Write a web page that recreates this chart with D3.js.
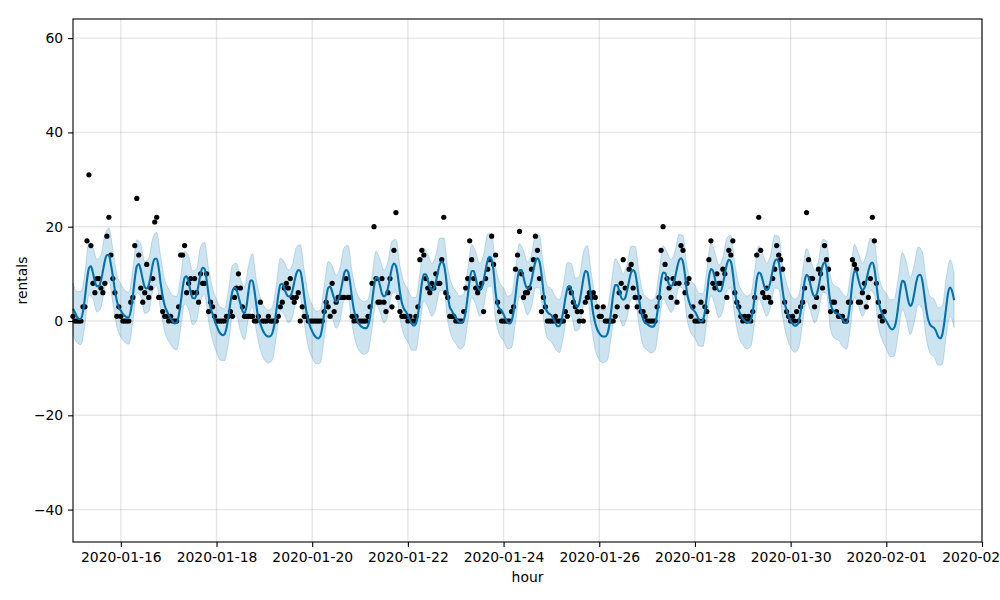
<!DOCTYPE html>
<html>
<head>
<meta charset="utf-8">
<script src="https://cdn.jsdelivr.net/npm/d3@7"></script>
<style>
  body { margin: 0; background: #fff; }
  svg { display: block; font-family: "DejaVu Sans", sans-serif; }
</style>
</head>
<body>
<svg id="chart" width="1000" height="600"></svg>
<script>
// hourly series, hour 0 = 2020-01-15 00:00 UTC
const startTime = "2020-01-15T00:00:00Z";
const endTime = "2020-02-03T00:00:00Z";

// observed rentals, one per hour (2020-01-15 .. 2020-01-31)
const rentals = [
  1,0,0,0,0,3,3,17,31,16,8,6,9,9,7,6,8,18,22,14,9,6,1,3,
  1,0,0,0,0,4,5,16,26,14,7,4,6,12,5,7,9,21,22,5,5,2,1,1,
  0,1,0,0,0,3,14,14,16,6,8,9,6,9,6,4,10,8,8,10,2,4,3,1,
  0,0,0,0,0,1,1,2,1,5,7,10,7,3,1,1,1,1,1,0,0,1,4,0,
  0,0,1,0,0,0,0,1,3,4,7,8,7,9,5,4,5,6,0,3,1,1,0,0,
  0,0,0,0,0,0,2,4,3,1,8,2,4,5,5,5,5,9,5,5,1,0,1,0,
  0,0,0,0,1,3,8,20,9,4,4,9,4,2,6,9,3,15,23,5,2,1,1,1,
  0,1,0,0,1,3,13,15,14,9,7,6,8,7,10,8,8,13,22,6,5,1,1,1,
  0,0,0,0,2,7,9,17,13,9,7,6,7,8,2,9,11,13,18,12,14,4,2,0,
  0,0,0,0,2,3,11,14,19,10,5,6,6,7,11,13,18,15,9,2,5,3,0,0,
  0,0,1,0,0,0,0,2,1,7,6,4,3,2,0,2,0,4,5,6,5,6,5,3,
  1,1,3,0,0,0,0,0,1,3,6,8,13,7,3,11,12,7,5,3,5,2,2,1,
  0,0,0,0,0,3,5,15,20,12,9,7,5,9,8,4,8,16,15,6,8,9,1,3,
  0,0,0,4,0,3,2,13,17,8,7,10,8,8,11,10,5,15,14,17,6,4,3,1,
  0,1,0,1,0,2,5,14,22,15,6,5,7,5,4,9,11,16,14,13,11,4,2,1,
  0,1,0,2,0,3,4,7,23,13,9,9,3,5,11,10,7,16,13,11,2,4,4,2,
  1,1,1,0,0,4,4,13,12,11,4,4,6,8,3,5,9,22,17,8,4,1,0,2
];

// forecast yhat, one per hour (2020-01-15 00:00 .. 2020-02-02 10:00)
const yhat = [
  2.6,1.8,0.9,0.4,0.5,2.0,5.0,8.6,11.2,11.6,10.2,8.3,7.4,7.4,8.5,10.6,12.8,14.0,14.0,12.0,9.5,6.6,4.3,2.9,
  2.2,1.5,1.1,0.8,0.8,2.2,5.3,8.9,11.6,12.1,10.8,8.8,7.2,6.9,7.6,9.6,12.0,13.2,13.2,11.2,7.9,5.2,3.3,2.2,
  1.3,0.5,-0.1,-0.5,-0.4,1.0,3.8,7.0,9.2,9.5,8.2,6.2,4.9,4.8,5.7,7.7,10.1,11.3,11.1,8.8,5.6,2.8,1.5,0.2,
  -1.0,-2.0,-2.7,-3.0,-2.8,-1.5,1.0,4.0,6.3,7.1,6.6,5.2,3.6,2.2,1.6,3.0,6.2,8.6,8.6,6.5,3.3,0.5,-0.6,-1.8,
  -2.6,-3.1,-3.3,-3.2,-2.6,-0.8,2.2,5.5,7.7,7.9,6.9,5.8,5.2,5.3,6.3,8.2,10.0,10.8,10.6,8.5,5.2,2.2,0.2,-1.2,
  -2.2,-3.0,-3.5,-3.7,-3.3,-1.5,1.6,4.8,7.0,7.3,6.2,4.8,4.1,4.4,5.8,7.9,10.0,10.8,10.4,8.2,4.8,2.2,0.8,-0.3,
  -0.9,-1.3,-1.5,-1.5,-1.0,0.8,3.9,7.3,9.2,9.0,7.5,5.8,5.2,5.6,7.0,9.2,11.3,12.2,11.7,9.4,6.2,3.8,2.6,2.0,
  1.2,0.2,-0.6,-1.0,-0.6,1.2,4.5,8.0,9.9,9.9,8.6,7.1,6.6,6.9,8.3,10.3,12.0,12.6,12.0,9.6,5.6,3.0,2.2,1.4,
  0.8,0.1,-0.3,-0.3,0.2,2.0,5.2,8.7,10.6,10.6,9.1,7.3,6.6,7.0,8.6,10.9,12.8,13.6,13.0,10.5,6.0,3.4,2.6,2.2,
  1.4,0.4,-0.3,-0.5,0.0,2.0,5.4,9.0,10.8,10.8,9.3,7.6,6.9,7.2,8.6,10.8,12.6,13.3,12.6,10.0,6.2,2.9,1.9,1.5,
  1.2,0.5,-0.4,-1.1,-1.1,0.0,2.2,4.8,6.8,7.4,6.6,5.0,3.5,3.0,3.9,6.2,8.9,10.6,10.4,8.0,4.6,1.5,-0.5,-1.8,
  -2.6,-3.1,-3.3,-3.3,-2.8,-1.0,2.2,5.6,7.6,7.6,6.4,5.0,4.5,4.9,6.5,8.6,10.3,10.8,10.2,7.8,4.6,1.8,0.4,-0.4,
  -0.6,-1.0,-1.2,-1.2,-0.6,1.4,4.8,8.4,10.3,10.2,9.0,7.8,7.4,7.8,9.2,11.2,12.8,13.3,12.5,9.8,6.0,4.2,3.0,2.4,
  2.0,1.2,0.3,-0.1,0.2,2.0,5.5,9.2,11.0,10.7,9.0,7.2,6.3,6.4,7.8,10.0,12.0,13.0,12.6,10.2,6.6,3.8,2.3,1.2,
  0.5,0.0,-0.3,-0.3,0.2,2.0,5.3,8.8,10.3,10.0,8.6,7.1,6.6,7.0,8.6,10.8,12.6,13.1,12.4,9.8,6.4,3.8,2.3,1.0,
  0.0,-0.6,-1.0,-0.9,-0.2,1.8,5.0,8.4,9.8,9.3,7.6,5.9,5.2,5.6,7.2,9.6,11.7,12.4,11.4,7.2,3.8,2.4,1.9,1.6,
  1.5,1.0,0.3,-0.3,-0.4,1.0,4.2,8.2,10.6,10.4,8.8,7.3,6.6,7.0,8.6,10.6,12.0,12.4,11.2,8.0,4.5,2.6,1.5,0.6,
  0.0,-0.8,-1.5,-1.8,-1.4,0.2,3.2,6.5,8.5,8.3,6.5,4.3,3.2,3.8,5.8,8.2,9.6,9.8,8.7,5.8,2.6,0.3,-0.8,-1.2,
  -1.5,-2.2,-3.3,-3.7,-3.0,-0.6,2.8,6.0,7.1,6.3,4.4
];

// uncertainty interval, every 2 hours
const yhatUpper = [
  8.0,6.2,6.3,10.4,16.9,15.6,13.1,14.0,18.3,19.7,15.2,9.8,
  7.9,6.5,6.1,10.9,17.2,16.4,12.6,13.3,17.6,18.8,13.6,8.8,
  6.8,5.4,5.2,9.5,14.8,13.8,10.6,11.1,15.8,16.7,11.2,7.0,
  4.6,2.9,2.7,6.6,11.8,12.3,9.0,7.3,11.6,14.3,8.7,4.9,
  3.0,2.3,3.0,7.8,13.3,12.5,10.8,11.8,15.6,16.2,10.8,5.8,
  3.4,2.1,2.3,7.4,12.6,11.8,9.7,11.4,15.6,16.0,10.4,6.4,
  4.7,4.1,4.6,9.5,14.8,13.1,10.8,12.6,16.9,17.3,11.8,8.2,
  6.8,5.0,5.0,10.1,15.5,14.2,12.2,13.9,17.6,17.6,11.2,7.8,
  6.4,5.3,5.8,10.8,16.2,14.7,12.2,14.2,18.4,18.6,11.6,8.2,
  7.0,5.3,5.6,11.0,16.4,14.9,12.5,14.2,18.2,18.2,11.8,7.5,
  6.8,5.2,4.5,7.8,12.4,12.2,9.1,9.5,14.5,16.0,10.2,5.1,
  3.0,2.3,2.8,7.8,13.2,12.0,10.1,12.1,15.9,15.8,10.2,6.0,
  5.0,4.4,5.0,10.4,15.9,14.6,13.0,14.8,18.4,18.1,11.6,8.6,
  7.6,5.9,5.8,11.1,16.6,14.6,11.9,13.4,17.6,18.2,12.2,7.9,
  6.1,5.3,5.8,10.9,15.9,14.2,12.2,14.2,18.2,18.0,12.0,7.9,
  5.6,4.6,5.4,10.6,15.4,13.2,10.8,12.8,17.3,17.0,9.4,7.5,
  7.1,5.9,5.2,9.8,16.2,14.4,12.2,14.2,17.6,16.8,10.1,7.1,
  5.9,4.5,4.6,9.2,14.5,12.6,9.2,11.9,15.7,14.8,8.7,5.2,
  4.6,2.8,3.1,9.0,13.0,10.2
];
const yhatLower = [
  -2.9,-4.6,-5.0,-0.6,5.5,4.7,1.9,2.8,7.1,8.5,3.8,-1.2,
  -3.4,-4.5,-4.9,-0.3,6.0,5.1,1.6,2.0,6.3,7.5,2.2,-2.3,
  -4.3,-5.6,-6.1,-1.7,3.6,2.5,-0.8,0.1,4.4,5.6,0.0,-4.0,
  -6.6,-8.3,-8.4,-4.6,0.7,1.0,-2.1,-4.0,0.5,3.0,-2.2,-6.2,
  -8.2,-8.9,-8.2,-3.4,2.1,1.3,-0.4,0.7,4.4,5.0,-0.4,-5.4,
  -7.8,-9.1,-8.9,-3.8,1.4,0.6,-1.5,0.2,4.4,4.8,-0.8,-4.8,
  -6.5,-7.1,-6.6,-1.7,3.6,1.9,-0.4,1.4,5.7,6.1,0.6,-3.0,
  -4.4,-6.2,-6.2,-1.1,4.3,3.0,1.0,2.7,6.4,6.4,0.0,-3.4,
  -4.8,-5.9,-5.4,-0.4,5.0,3.5,1.0,3.0,7.2,7.4,0.4,-3.0,
  -4.2,-5.9,-5.6,-0.2,5.2,3.7,1.3,3.0,7.0,7.0,0.6,-3.7,
  -4.4,-6.0,-6.7,-3.4,1.2,1.0,-2.1,-1.7,3.3,4.8,-1.0,-6.1,
  -8.2,-8.9,-8.4,-3.4,2.0,0.8,-1.1,0.9,4.7,4.6,-1.0,-5.2,
  -6.2,-6.8,-6.2,-0.8,4.7,3.4,1.8,3.6,7.2,6.9,0.4,-2.6,
  -3.6,-5.3,-5.4,-0.1,5.4,3.4,0.7,2.2,6.4,7.0,1.0,-3.3,
  -5.1,-5.9,-5.4,-0.3,4.7,3.0,1.0,3.0,7.0,6.8,0.8,-3.3,
  -5.6,-6.6,-5.8,-0.6,4.2,2.0,-0.4,1.6,6.1,5.8,-1.8,-3.7,
  -4.1,-5.3,-6.0,-1.4,5.0,3.2,1.0,3.0,6.4,5.6,-1.1,-4.1,
  -5.9,-7.6,-7.4,-2.8,2.5,0.4,-2.9,-0.3,3.5,2.6,-3.5,-6.9,
  -7.6,-9.4,-9.2,-3.4,1.0,-1.4
];

const xTickLabels = ["2020-01-16","2020-01-18","2020-01-20","2020-01-22","2020-01-24","2020-01-26",
                     "2020-01-28","2020-01-30","2020-02-01","2020-02-03"];
const yTicks = [-40, -20, 0, 20, 40, 60];
const yRange = [-46.87, 64.05];

// layout
const plot = { left: 73, right: 982, top: 19, bottom: 542 };
const t0 = new Date(startTime).getTime();
const hourDate = h => new Date(t0 + h * 3600 * 1000);

const svg = d3.select("#chart");

const x = d3.scaleUtc()
  .domain([new Date(startTime), new Date(endTime)])
  .range([plot.left, plot.right]);
const y = d3.scaleLinear()
  .domain(yRange)
  .range([plot.bottom, plot.top]);

const tickDates = xTickLabels.map(s => new Date(s + "T00:00:00Z"));

// uncertainty band
const band = yhatUpper.map((u, i) => ({ t: hourDate(i * 2), hi: u, lo: yhatLower[i] }));
svg.append("path")
  .datum(band)
  .attr("d", d3.area()
    .x(d => x(d.t))
    .y0(d => y(d.lo))
    .y1(d => y(d.hi))
    .curve(d3.curveMonotoneX))
  .attr("fill", "rgba(0,114,178,0.2)")
  .attr("stroke", "rgba(0,114,178,0.2)")
  .attr("stroke-width", 1);

// grid
const grid = svg.append("g");
grid.selectAll(".gx").data(tickDates).join("line")
  .attr("x1", d => x(d)).attr("x2", d => x(d))
  .attr("y1", plot.top).attr("y2", plot.bottom)
  .attr("stroke", "rgba(128,128,128,0.2)").attr("stroke-width", 1.4);
grid.selectAll(".gy").data(yTicks).join("line")
  .attr("x1", plot.left).attr("x2", plot.right)
  .attr("y1", d => y(d)).attr("y2", d => y(d))
  .attr("stroke", "rgba(128,128,128,0.2)").attr("stroke-width", 1.4);

// observed points
svg.append("g").selectAll("circle")
  .data(rentals)
  .join("circle")
  .attr("cx", (d, i) => x(hourDate(i)))
  .attr("cy", d => y(d))
  .attr("r", 2.6)
  .attr("fill", "#000");

// forecast line
svg.append("path")
  .datum(yhat)
  .attr("d", d3.line()
    .x((d, i) => x(hourDate(i)))
    .y(d => y(d))
    .curve(d3.curveMonotoneX))
  .attr("fill", "none")
  .attr("stroke", "#0072B2")
  .attr("stroke-width", 2.1);

// axes
const xAxis = d3.axisBottom(x)
  .tickValues(tickDates)
  .tickFormat(d3.utcFormat("%Y-%m-%d"))
  .tickSize(4.9).tickPadding(4.9).tickSizeOuter(0);
const gx = svg.append("g").attr("transform", `translate(0,${plot.bottom})`).call(xAxis);

const yAxis = d3.axisLeft(y)
  .tickValues(yTicks)
  .tickFormat(d => d < 0 ? "\u2212" + Math.abs(d) : d)
  .tickSize(4.9).tickPadding(4.9).tickSizeOuter(0);
const gy = svg.append("g").attr("transform", `translate(${plot.left},0)`).call(yAxis);

[gx, gy].forEach(g => {
  g.select(".domain").remove();
  g.selectAll(".tick line").attr("stroke", "#000").attr("stroke-width", 1.1);
  g.selectAll(".tick text").attr("fill", "#000").style("font-size", "13.9px")
    .style("font-family", "'DejaVu Sans', sans-serif");
});

// frame
svg.append("rect")
  .attr("x", plot.left).attr("y", plot.top)
  .attr("width", plot.right - plot.left).attr("height", plot.bottom - plot.top)
  .attr("fill", "none").attr("stroke", "#000").attr("stroke-width", 1.1);

// labels
svg.append("text")
  .attr("x", (plot.left + plot.right) / 2).attr("y", 582)
  .attr("text-anchor", "middle").style("font-size", "13.9px")
  .text("hour");
svg.append("text")
  .attr("transform", `translate(27,${(plot.top + plot.bottom) / 2}) rotate(-90)`)
  .attr("text-anchor", "middle").style("font-size", "13.9px")
  .text("rentals");
</script>
</body>
</html>
